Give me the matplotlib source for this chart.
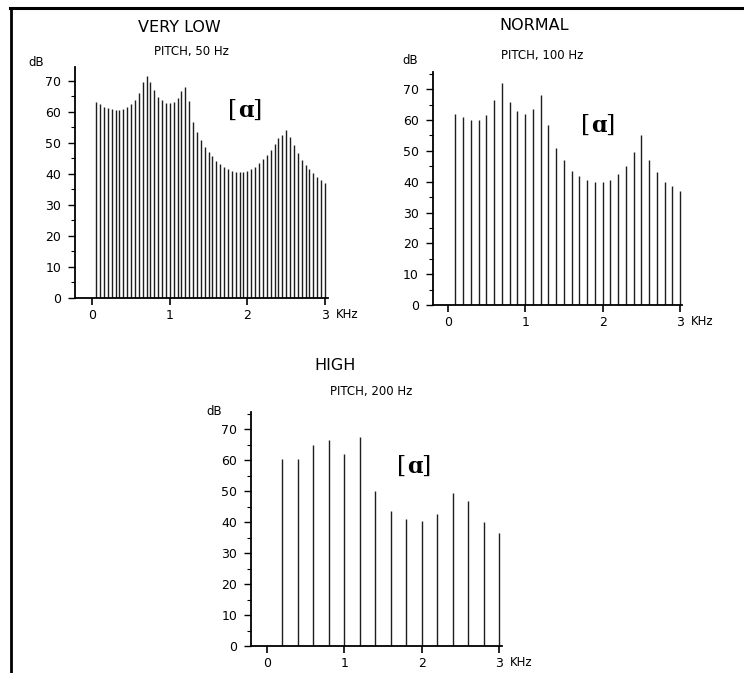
import matplotlib.pyplot as plt
from matplotlib.lines import Line2D
from matplotlib.ticker import MultipleLocator

plt.rcParams['font.family'] = ['DejaVu Sans']

# harmonic levels (dB), one value per harmonic
very_low_pitch = 50
very_low_db = [63.3, 62.6, 61.7, 61.2, 60.9, 60.6, 60.6, 61.0, 61.5, 62.5,
               63.9, 66.2, 69.8, 71.6, 69.8, 67.1, 64.9, 63.9, 63.0, 62.8,
               63.3, 64.4, 66.6, 68.0, 63.5, 56.9, 53.6, 51.0, 48.8, 47.2,
               45.6, 44.3, 43.2, 42.3, 41.6, 41.0, 40.6, 40.5, 40.6, 41.0,
               41.7, 42.3, 43.4, 44.7, 46.1, 47.7, 49.7, 51.5, 52.6, 54.0,
               52.0, 49.3, 46.7, 44.5, 42.9, 41.5, 40.2, 39.1, 38.0, 37.0]

normal_pitch = 100
normal_db = [62, 61, 60, 60, 61.5, 66.5, 72, 66, 63, 62,
             63.5, 68, 58.5, 51, 47, 43.5, 42, 40.5, 40, 40,
             40.5, 42.5, 45, 49.5, 55, 47, 43, 40, 38.5, 37]

high_pitch = 200
high_db = [60.5, 60.5, 65, 66.5, 62, 67.5, 50, 43.5, 41, 40.5,
           42.5, 49.5, 47, 40, 36.5]

x_ticks = [0, 1, 2, 3]
x_labels = ['0', '1', '2', '3']
y_ticks = [0, 10, 20, 30, 40, 50, 60, 70]

W, H = 744, 673
fig = plt.figure(figsize=(W / 100, H / 100), dpi=100)
fig.patch.set_facecolor('white')


def px_axes(left, right, top, bottom):
    # pixel box -> figure fraction
    return [left / W, 1 - bottom / H, (right - left) / W, (bottom - top) / H]


def ftext(x, y, s, **kw):
    return fig.text(x / W, 1 - y / H, s, ha='center', va='center', **kw)


def spectrum(box, xlim, ytop, pitch, levels, title, sub, title_xy, sub_xy, db_xy, vowel_xy):
    ax = fig.add_axes(px_axes(*box))
    freqs = [pitch * (n + 1) / 1000 for n in range(len(levels))]
    ax.vlines(freqs, 0, levels, color='#1e1e1e', lw=1.0)
    ax.set_xlim(*xlim)
    ax.set_ylim(0, ytop)
    for s in ['top', 'right']:
        ax.spines[s].set_visible(False)
    ax.spines['left'].set_linewidth(1.3)
    ax.spines['bottom'].set_linewidth(1.3)
    ax.set_xticks(x_ticks)
    ax.set_xticklabels(x_labels, fontsize=9)
    ax.set_yticks(y_ticks)
    ax.set_yticklabels([str(v) for v in y_ticks], fontsize=9)
    ax.yaxis.set_minor_locator(MultipleLocator(5))
    ax.tick_params(axis='y', which='major', length=5, width=1, pad=5)
    ax.tick_params(axis='y', which='minor', length=3, width=0.8)
    ax.tick_params(axis='x', which='major', length=5, width=1.2, pad=3)
    ax.patch.set_alpha(0)
    ax.annotate('KHz', xy=(3, 0), xycoords=('data', 'axes fraction'),
                xytext=(11, -10.5), textcoords='offset pixels',
                ha='left', va='top', fontsize=8.5)
    ftext(*title_xy, title, fontsize=11.5)
    ftext(*sub_xy, sub, fontsize=8.5)
    ftext(*db_xy, 'dB', fontsize=8.5)
    vx, vy = vowel_xy
    ftext(vx - 12, vy, '[', fontsize=17, family='DejaVu Serif')
    ftext(vx + 0.5, vy + 1, 'ɑ', fontsize=16, family='DejaVu Serif', fontweight='bold')
    ftext(vx + 12, vy, ']', fontsize=17, family='DejaVu Serif')
    return ax


spectrum((75, 328, 66.7, 297.7), (-0.223, 3.04), 74.6, very_low_pitch, very_low_db,
         'VERY LOW', 'PITCH, 50 Hz', (179, 27), (191, 51.5), (36.5, 62), (245, 110))
spectrum((432.7, 681.7, 71.7, 305), (-0.194, 3.02), 75.7, normal_pitch, normal_db,
         'NORMAL', 'PITCH, 100 Hz', (534, 25), (542, 56), (410, 61), (598, 125))
spectrum((251, 501.7, 411.7, 646), (-0.203, 3.03), 75.7, high_pitch, high_db,
         'HIGH', 'PITCH, 200 Hz', (335, 365), (371, 392), (214, 411), (414, 466))

# scan frame: top and left rules
fig.add_artist(Line2D([10 / W, 1], [1 - 7.5 / H, 1 - 7.5 / H], color='black', lw=2.2,
                      transform=fig.transFigure))
fig.add_artist(Line2D([11 / W, 11 / W], [0, 1 - 7.5 / H], color='black', lw=2.0,
                      transform=fig.transFigure))

fig.savefig('out.png', dpi=100)
